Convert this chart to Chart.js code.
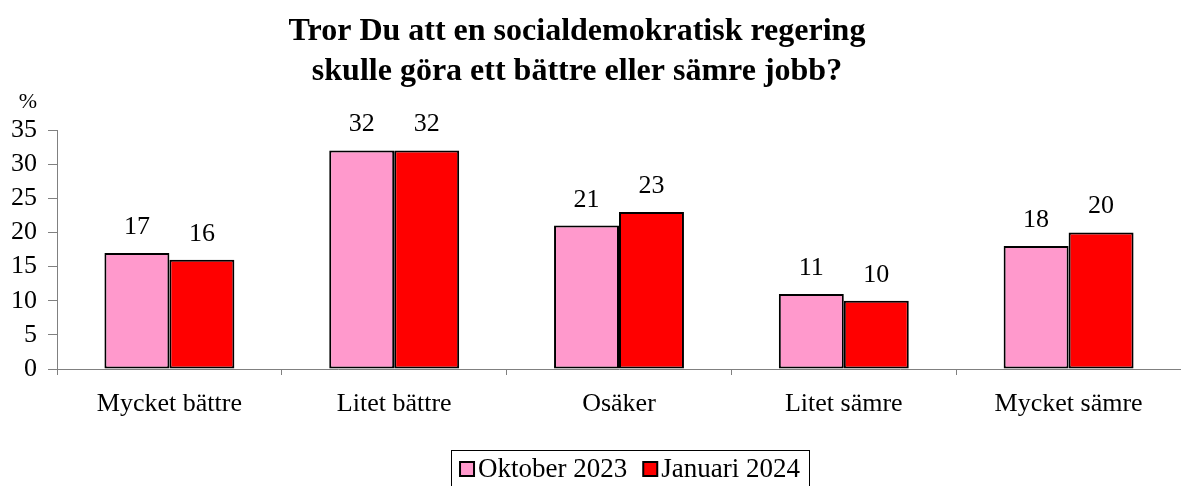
<!DOCTYPE html>
<html>
<head>
<meta charset="utf-8">
<script src="https://cdn.jsdelivr.net/npm/chart.js@4"></script>
<style>
  body { margin: 0; background: #fff; }
  #wrap { width: 1181px; height: 486px; position: relative; }
</style>
</head>
<body>
<div id="wrap"><canvas id="chart"></canvas></div>
<script>
const categories = ['Mycket bättre', 'Litet bättre', 'Osäker', 'Litet sämre', 'Mycket sämre'];
const okt2023 = [17, 32, 21, 11, 18];
const jan2024 = [16, 32, 23, 10, 20];
const seriesNames = ['Oktober 2023', 'Januari 2024'];
const titleLines = ['Tror Du att en socialdemokratisk regering', 'skulle göra ett bättre eller sämre jobb?'];

const serif = "'Liberation Serif', 'Times New Roman', serif";

// title, % label, value labels and the boxed legend
const extras = {
  id: 'extras',
  afterDatasetsDraw(chart) {
    const ctx = chart.ctx;
    ctx.save();
    ctx.fillStyle = '#000';
    ctx.textAlign = 'center';
    ctx.textBaseline = 'alphabetic';
    ctx.font = 'bold 32px ' + serif;
    ctx.fillText(titleLines[0], 577, 40);
    ctx.fillText(titleLines[1], 577, 80);

    ctx.font = '22px ' + serif;
    ctx.fillText('%', 28, 108);

    // values above bars
    ctx.font = '26px ' + serif;
    chart.data.datasets.forEach((ds, i) => {
      chart.getDatasetMeta(i).data.forEach((bar, j) => {
        ctx.fillText(ds.data[j], bar.x, bar.y - 19);
      });
    });

    // legend
    ctx.font = '27px ' + serif;
    ctx.textAlign = 'left';
    ctx.textBaseline = 'middle';
    const box = 14, gap = 4, itemGap = 16;
    let widths = chart.data.datasets.map(ds => box + gap + ctx.measureText(ds.label).width);
    let total = widths.reduce((a, b) => a + b, 0) + itemGap * (widths.length - 1);
    const cx = 630, cy = 469;
    let x = cx - total / 2;
    chart.data.datasets.forEach((ds, i) => {
      ctx.fillStyle = ds.backgroundColor;
      ctx.fillRect(x, cy - box / 2, box, box);
      ctx.lineWidth = 2;
      ctx.strokeStyle = '#000';
      ctx.strokeRect(x, cy - box / 2, box, box);
      ctx.fillStyle = '#000';
      ctx.fillText(ds.label, x + box + gap, cy + 1);
      x += widths[i] + itemGap;
    });
    ctx.lineWidth = 1;
    ctx.strokeStyle = '#000';
    ctx.strokeRect(Math.round(cx - total / 2 - 9) + 0.5, 450.5, Math.round(total + 18), 40);
    ctx.restore();
  }
};

new Chart(document.getElementById('chart'), {
  type: 'bar',
  data: {
    labels: categories,
    datasets: [
      { label: seriesNames[0], data: okt2023, backgroundColor: '#ff99cc', borderColor: '#000', borderWidth: 2, borderSkipped: false },
      { label: seriesNames[1], data: jan2024, backgroundColor: '#ff0000', borderColor: '#000', borderWidth: 2, borderSkipped: false }
    ]
  },
  options: {
    responsive: true,
    maintainAspectRatio: false,
    animation: false,
    datasets: { bar: { categoryPercentage: 0.578, barPercentage: 1 } },
    layout: { padding: { top: 130, left: 10, right: 0, bottom: 57 } },
    plugins: { legend: { display: false }, title: { display: false }, tooltip: { enabled: false } },
    scales: {
      x: {
        grid: { display: true, drawOnChartArea: false, offset: true, tickLength: 6, color: '#808080' },
        border: { color: '#808080', width: 1 },
        ticks: { color: '#000', font: { family: serif, size: 26 }, padding: 14, maxRotation: 0 },
        afterFit(s) { s.height = 60; }
      },
      y: {
        min: 0, max: 35,
        grid: { display: true, drawOnChartArea: false, tickLength: 9, color: '#808080' },
        border: { color: '#808080', width: 1 },
        ticks: { stepSize: 5, autoSkip: false, color: '#000', font: { family: serif, size: 26, lineHeight: 1 }, padding: 11 },
        afterFit(s) { s.width = 47; }
      }
    }
  },
  plugins: [extras]
});
</script>
</body>
</html>
